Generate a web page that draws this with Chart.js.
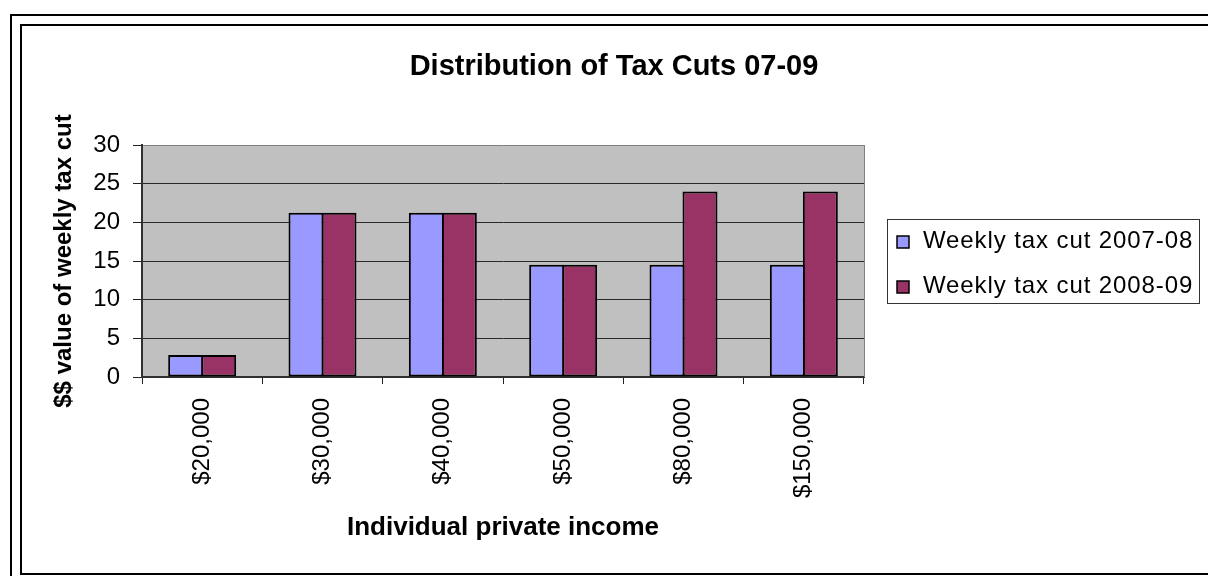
<!DOCTYPE html>
<html>
<head>
<meta charset="utf-8">
<title>Distribution of Tax Cuts 07-09</title>
<script src="https://cdn.jsdelivr.net/npm/chart.js@4.4.1/dist/chart.umd.min.js"></script>
<style>
    html, body { margin: 0; padding: 0; background: #fff; }
    #wrap { width: 1208px; height: 576px; }
</style>
</head>
<body>
<div id="wrap"><canvas id="taxChart" width="1208" height="576"></canvas></div>
<script>
// Data
const incomeLabels = ['$20,000', '$30,000', '$40,000', '$50,000', '$80,000', '$150,000'];
const cut2007 = [2.85, 21.25, 21.25, 14.5, 14.5, 14.5];
const cut2008 = [2.85, 21.25, 21.25, 14.5, 24, 24];
const seriesNames = ['Weekly tax cut 2007-08', 'Weekly tax cut 2008-09'];
const seriesColors = ['#9999FF', '#993366'];
const yTicks = [0, 5, 10, 15, 20, 25, 30];

const FONT = "'Liberation Sans', Arial, sans-serif";
const LEGEND_SPACE = 334;

Chart.defaults.color = '#000';
Chart.defaults.font.family = FONT;

// White sheet with the double frame and the grey plot area
const framePlugin = {
    id: 'frame',
    beforeDraw(chart) {
        const { ctx, chartArea: a, width, height } = chart;
        ctx.save();
        ctx.fillStyle = '#fff';
        ctx.fillRect(0, 0, width, height);
        ctx.strokeStyle = '#000';
        ctx.lineWidth = 2;
        ctx.strokeRect(11, 15, width + 20, height + 20);
        ctx.strokeRect(21, 25, width + 20, 549);
        ctx.fillStyle = '#C0C0C0';
        ctx.fillRect(a.left, a.top, a.right - a.left, a.bottom - a.top);
        ctx.restore();
    },
    beforeDatasetsDraw(chart) {
        const { ctx, chartArea: a } = chart;
        ctx.save();
        ctx.strokeStyle = '#808080';
        ctx.lineWidth = 1;
        ctx.beginPath();
        ctx.moveTo(Math.round(a.right) + 0.5, a.top);
        ctx.lineTo(Math.round(a.right) + 0.5, a.bottom);
        ctx.stroke();
        ctx.restore();
    }
};

// Legend living in its own layout box on the right
function drawLegend(chart, box) {
    const ctx = chart.ctx;
    const area = chart.chartArea;
    const w = 312, h = 84;
    const x = Math.round(box.left) + 23;
    const y = Math.round((area.top + area.bottom) / 2 - h / 2);
    ctx.save();
    ctx.strokeStyle = '#333';
    ctx.lineWidth = 1;
    ctx.strokeRect(x + 0.5, y + 0.5, w, h);
    ctx.font = '24px ' + FONT;
    ctx.letterSpacing = '0.9px';
    ctx.textBaseline = 'alphabetic';
    ctx.textAlign = 'left';
    chart.data.datasets.forEach((ds, i) => {
        const base = y + 29 + i * 45;
        ctx.fillStyle = ds.backgroundColor;
        ctx.fillRect(x + 10, base - 12, 12, 12);
        ctx.strokeStyle = '#000';
        ctx.lineWidth = 1.5;
        ctx.strokeRect(x + 10, base - 12, 12, 12);
        ctx.fillStyle = '#000';
        ctx.fillText(ds.label, x + 36, base);
    });
    ctx.restore();
}

const sideLegend = {
    id: 'sideLegend',
    start(chart) {
        const box = {
            position: 'right', weight: 10, fullSize: false, options: {},
            top: 0, left: 0, right: 0, bottom: 0, width: 0, height: 0,
            isHorizontal() { return false; },
            update(maxWidth, maxHeight) {
                this.width = LEGEND_SPACE;
                this.height = maxHeight;
            },
            draw() { drawLegend(chart, this); }
        };
        chart.$sideLegend = box;
        Chart.layouts.addBox(chart, box);
    },
    stop(chart) {
        Chart.layouts.removeBox(chart, chart.$sideLegend);
    }
};

const ctx = document.getElementById('taxChart');
new Chart(ctx, {
    type: 'bar',
    data: {
        labels: incomeLabels,
        datasets: [{
            label: seriesNames[0],
            data: cut2007,
            backgroundColor: seriesColors[0],
            borderColor: '#000',
            borderWidth: 2,
            borderSkipped: false
        }, {
            label: seriesNames[1],
            data: cut2008,
            backgroundColor: seriesColors[1],
            borderColor: '#000',
            borderWidth: 2,
            borderSkipped: false
        }]
    },
    options: {
        responsive: false,
        animation: false,
        devicePixelRatio: 1,
        categoryPercentage: 0.5485,
        barPercentage: 1.06,
        layout: { padding: { top: 0, left: 30, right: 10, bottom: 20 } },
        plugins: {
            legend: { display: false },
            tooltip: { enabled: false },
            title: {
                display: true,
                text: 'Distribution of Tax Cuts 07-09',
                color: '#000',
                font: { size: 29, weight: 'bold', family: FONT },
                padding: { top: 49.6, bottom: 60.6 }
            }
        },
        scales: {
            x: {
                afterFit(scale) { scale.height = 179; },
                grid: {
                    drawOnChartArea: false,
                    drawTicks: true,
                    tickLength: 7,
                    tickColor: '#222'
                },
                border: { color: '#303030', width: 2 },
                ticks: {
                    autoSkip: false,
                    minRotation: 90,
                    maxRotation: 90,
                    padding: 14,
                    color: '#000',
                    font: { size: 24, family: FONT }
                },
                title: {
                    display: true,
                    text: 'Individual private income',
                    color: '#000',
                    font: { size: 26, weight: 'bold', family: FONT },
                    padding: 12.4
                }
            },
            y: {
                min: 0,
                max: 30,
                afterFit(scale) { scale.width = 112; },
                afterBuildTicks(scale) { scale.ticks = yTicks.map(v => ({ value: v })); },
                grid: {
                    color: c => (c.tick && c.tick.value === 30 ? '#808080' : '#2a2a2a'),
                    tickColor: '#222',
                    tickLength: 9
                },
                border: { color: '#303030', width: 2 },
                ticks: {
                    padding: 13,
                    color: '#000',
                    font: { size: 24, family: FONT }
                },
                title: {
                    display: true,
                    text: '$$ value of weekly tax cut',
                    color: '#000',
                    font: { size: 24, weight: 'bold', family: FONT },
                    padding: 20
                }
            }
        }
    },
    plugins: [framePlugin, sideLegend]
});
</script>
</body>
</html>
